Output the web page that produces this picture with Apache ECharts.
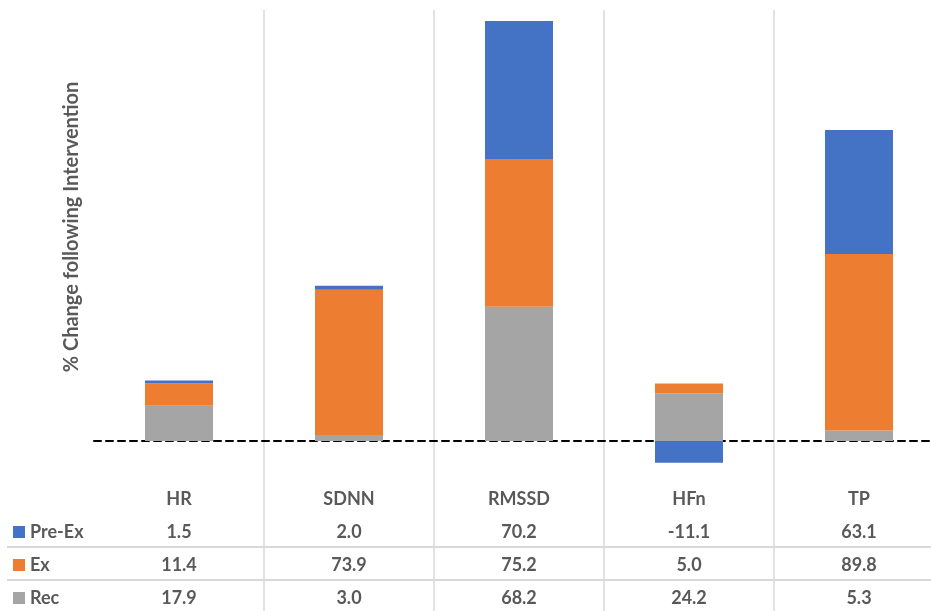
<!DOCTYPE html>
<html>
<head>
<meta charset="utf-8">
<script src="https://cdn.jsdelivr.net/npm/echarts@6/dist/echarts.min.js"></script>
<style>
  html, body { margin: 0; padding: 0; background: #fff; }
  #chart { width: 931px; height: 611px; }
</style>
</head>
<body>
<div id="chart"></div>
<script>
// HRV measures and their % change per phase
const categories = ['HR', 'SDNN', 'RMSSD', 'HFn', 'TP'];
const preEx = [1.5, 2.0, 70.2, -11.1, 63.1];
const ex = [11.4, 73.9, 75.2, 5.0, 89.8];
const rec = [17.9, 3.0, 68.2, 24.2, 5.3];
const legendOrder = ['Pre-Ex', 'Ex', 'Rec'];

const COLORS = { 'Pre-Ex': '#4472C4', 'Ex': '#ED7D31', 'Rec': '#A5A5A5' };
const TEXT = '#595959';
const FONT = 'Lato, "Open Sans", sans-serif';

const chart = echarts.init(document.getElementById('chart'));

// each category's column of the data table under the plot
function tableLabel(value, idx) {
  return [
    '{h|' + value + '}',
    '{v|' + preEx[idx].toFixed(1) + '}',
    '{v|' + ex[idx].toFixed(1) + '}',
    '{v|' + rec[idx].toFixed(1) + '}'
  ].join('\n');
}

function barSeries(name, data) {
  return {
    name: name,
    type: 'bar',
    stack: 'total',
    barWidth: 68,
    data: data,
    itemStyle: { color: COLORS[name] },
    emphasis: { disabled: true }
  };
}

const labelRich = {
  h: { color: TEXT, fontSize: 18, fontWeight: 'bold', lineHeight: 33, fontFamily: FONT },
  v: { color: TEXT, fontSize: 18, fontWeight: 'bold', lineHeight: 33, fontFamily: FONT }
};

chart.setOption({
  animation: false,
  textStyle: { fontFamily: FONT },
  grid: { left: 94, width: 850, top: 10, bottom: 0, containLabel: false, outerBoundsMode: 'none' },
  legend: {
    data: legendOrder,
    orient: 'vertical',
    left: 13,
    top: 523,
    padding: 0,
    itemWidth: 12,
    itemHeight: 12,
    itemGap: 15,
    icon: 'rect',
    textStyle: { color: TEXT, fontSize: 18, fontWeight: 'bold', fontFamily: FONT },
    selectedMode: false
  },
  xAxis: [
    {
      // zero line and column separators
      type: 'category',
      data: categories,
      boundaryGap: true,
      axisLine: {
        onZero: true,
        lineStyle: { color: '#000', width: 2, type: [7, 5] }
      },
      axisTick: { show: false },
      axisLabel: { show: false },
      splitLine: {
        show: true,
        interval: function (i) { return i > 0; },
        lineStyle: { color: '#d9d9d9', width: 1.5 }
      }
    },
    {
      // data table text
      type: 'category',
      data: categories,
      position: 'bottom',
      offset: -128.5,
      axisLine: { show: false, onZero: false },
      axisTick: { show: false },
      splitLine: { show: false },
      axisLabel: {
        margin: 0,
        interval: 0,
        formatter: tableLabel,
        rich: labelRich
      }
    }
  ],
  yAxis: {
    type: 'value',
    min: -86.5,
    max: 219.2,
    show: false,
    splitLine: { show: false }
  },
  graphic: [
    {
      type: 'text',
      x: 72, y: 227,
      rotation: Math.PI / 2,
      style: {
        text: '% Change following Intervention',
        fill: TEXT,
        font: 'bold 20px ' + FONT,
        textAlign: 'center',
        textVerticalAlign: 'middle'
      }
    },
    { type: 'line', shape: { x1: 7, y1: 547, x2: 931, y2: 547 }, style: { stroke: '#d9d9d9', lineWidth: 2 } },
    { type: 'line', shape: { x1: 7, y1: 580, x2: 931, y2: 580 }, style: { stroke: '#d9d9d9', lineWidth: 2 } }
  ],
  series: [
    barSeries('Rec', rec),
    barSeries('Ex', ex),
    barSeries('Pre-Ex', preEx)
  ]
});
</script>
</body>
</html>
